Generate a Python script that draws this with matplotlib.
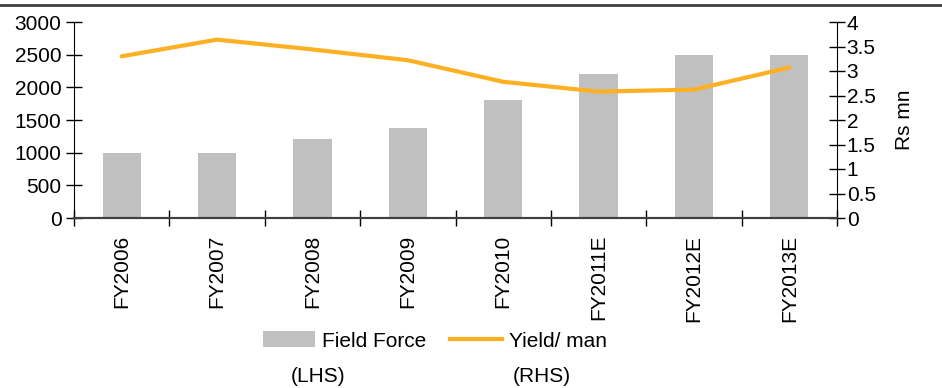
import numpy as np
import matplotlib
matplotlib.use("Agg")
import matplotlib.pyplot as plt
from matplotlib.patches import Patch
from matplotlib.lines import Line2D

plt.rcParams['font.family'] = ['Liberation Sans', 'DejaVu Sans']

# --- data ---
years = ['FY2006', 'FY2007', 'FY2008', 'FY2009', 'FY2010', 'FY2011E', 'FY2012E', 'FY2013E']
field_force = [1000, 1000, 1210, 1380, 1800, 2200, 2500, 2500]
yield_per_man = [3.3, 3.64, 3.44, 3.22, 2.78, 2.58, 2.62, 3.07]
left_ticks = [0, 500, 1000, 1500, 2000, 2500, 3000]
right_ticks = [0, 0.5, 1, 1.5, 2, 2.5, 3, 3.5, 4]
right_labels = ['0', '0.5', '1', '1.5', '2', '2.5', '3', '3.5', '4']

BAR_COLOR = '#c0c0c0'
LINE_COLOR = '#fdb022'
FS = 15

fig = plt.figure(figsize=(9.42, 3.88), dpi=100)
ax = fig.add_axes([74 / 942, 170 / 388, (837 - 74) / 942, (218 - 22) / 388])
ax2 = ax.twinx()

x = np.arange(len(years))
ax.bar(x, field_force, width=0.4, color=BAR_COLOR, zorder=2)
ax2.plot(x, yield_per_man, color=LINE_COLOR, lw=3, solid_capstyle='round', zorder=3)

ax.set_xlim(-0.5, len(years) - 0.5)
ax.set_ylim(0, 3000)
ax2.set_ylim(0, 4)

# left axis
ax.set_yticks(left_ticks)
ax.set_yticklabels([str(v) for v in left_ticks], fontsize=FS)
ax.tick_params(axis='y', direction='inout', length=12, width=1, pad=3)

# category boundaries get the tick marks, labels sit at the centres
ax.set_xticks(np.arange(-0.5, len(years)), minor=False)
ax.set_xticklabels([])
ax.tick_params(axis='x', which='major', direction='inout', length=12, width=1, color='black')
ax.set_xticks(x, minor=True)
ax.set_xticklabels(years, minor=True, rotation=90, fontsize=FS)
ax.tick_params(axis='x', which='minor', length=0, pad=12)

# right axis
ax2.set_yticks(right_ticks)
ax2.set_yticklabels(right_labels, fontsize=FS)
ax2.tick_params(axis='y', direction='inout', length=12, width=1, pad=1)
ax2.set_ylabel('Rs mn', fontsize=FS, labelpad=14)

for a in (ax, ax2):
    a.spines['top'].set_visible(False)
    a.spines['left'].set_color('black')
    a.spines['right'].set_color('black')
    a.spines['bottom'].set_color('#404040')
    a.spines['bottom'].set_linewidth(1.5)
ax2.spines['left'].set_visible(False)
ax.spines['right'].set_visible(False)
ax.set_zorder(ax2.get_zorder() - 1)
ax2.patch.set_visible(False)

# legend
handles = [Patch(facecolor=BAR_COLOR, edgecolor='none'),
           Line2D([], [], color=LINE_COLOR, lw=3)]
fig.legend(handles, ['Field Force', 'Yield/ man'], ncol=2, frameon=False,
           fontsize=FS, loc='center', bbox_to_anchor=(435 / 942, 1 - 341 / 388),
           handlelength=2.5, handleheight=0.8, handletextpad=0.35, columnspacing=1.1)
fig.text(318 / 942, 1 - 377 / 388, '(LHS)', fontsize=FS, ha='center', va='center')
fig.text(542 / 942, 1 - 377 / 388, '(RHS)', fontsize=FS, ha='center', va='center')

# rule across the top
fig.add_artist(Line2D([0, 1], [1 - 5 / 388, 1 - 5 / 388], color='#404040', lw=2,
                      transform=fig.transFigure))

fig.savefig('out.png', dpi=100)
